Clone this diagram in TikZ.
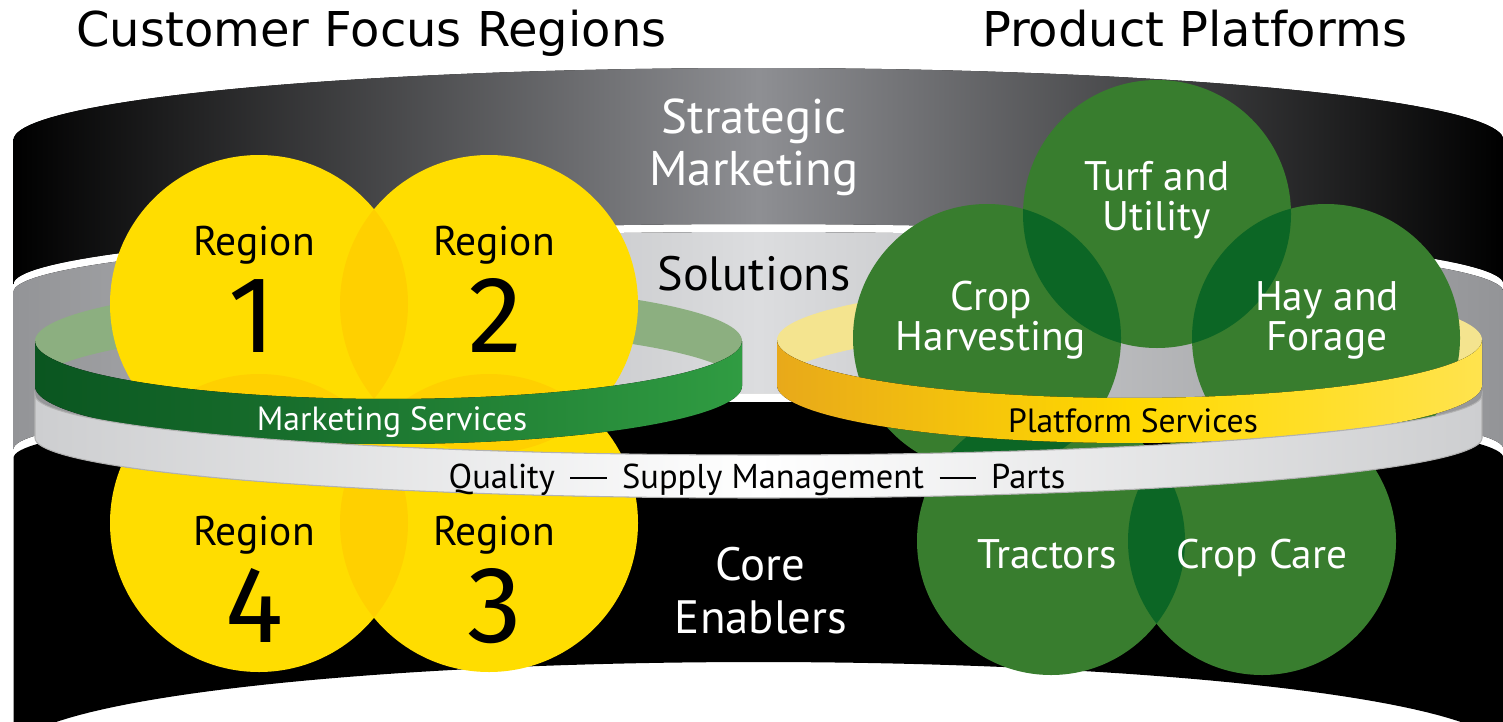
\documentclass[tikz,border=0pt]{standalone}
\usepackage{fontspec}
\setmainfont{PT Sans}
\newfontfamily\titlefont{DejaVu Sans}
\newfontfamily\digitfont{Fira Sans}
\usetikzlibrary{positioning}

\definecolor{regyellow}{HTML}{FFDD00}
\definecolor{reglens}{HTML}{FFD000}
\definecolor{platgreen}{HTML}{387D2E}
\definecolor{platlens}{HTML}{0C6625}
\definecolor{stratgray}{HTML}{8E8F93}
\definecolor{solgray}{HTML}{939497}
\definecolor{sollight}{HTML}{DCDDDF}
\definecolor{mktdark}{HTML}{0A5520}
\definecolor{mktlight}{HTML}{309C42}
\definecolor{mktback}{HTML}{8CAF80}
\definecolor{platorange}{HTML}{E8A91A}
\definecolor{platyellow}{HTML}{FFD900}
\definecolor{platpale}{HTML}{FFE34E}
\definecolor{platback}{HTML}{F4E48F}
\definecolor{qualgray}{HTML}{CDCED0}

% darker overlap of two discs
\newcommand{\lens}[4]{\begin{scope}\clip #1 circle[radius=#3]; \fill[#4] #2 circle[radius=#3];\end{scope}}
% long dash between the core enablers
\newcommand{\qdash}{\hspace{0.45em}\rule[0.26em]{1.05em}{0.055em}\hspace{0.45em}}

\begin{document}
\begin{tikzpicture}[x=0.01cm, y=-0.01cm, samples=90,
    declare function={ex(\t,\c,\a)=\c+\a*cos(\t); ey(\t,\c,\b)=\c-\b*sin(\t);},
    title/.style={font=\titlefont\fontsize{13.65}{16}\selectfont, anchor=base, inner sep=0pt},
    bandtxt/.style={font=\fontsize{13.85}{16}\selectfont, anchor=base, inner sep=0pt},
    regtxt/.style={font=\fontsize{11.8}{14}\selectfont, anchor=base, inner sep=0pt},
    regnum/.style={font=\digitfont\fontsize{31}{34}\selectfont, anchor=base, inner sep=0pt},
    plattxt/.style={font=\fontsize{11.75}{15}\selectfont, text=white, anchor=base, inner sep=0pt},
    ringtxt/.style={font=\fontsize{9.55}{12}\selectfont, anchor=base, inner sep=0pt}]
  \useasboundingbox (0,0) rectangle (1503,721);
  \clip (0,0) rectangle (1503,721);

  % drum
  \fill[left color=black, right color=black, middle color=stratgray]
    plot[domain=180:0] ({ex(\x,758.5,745)},{ey(\x,140,72)})
    -- plot[domain=0:180] ({ex(\x,758.5,745)},{ey(\x,284,60)}) -- cycle;
  \fill[left color=solgray, right color=solgray, middle color=sollight]
    plot[domain=180:0] ({ex(\x,758.5,745)},{ey(\x,292,60)})
    -- plot[domain=0:180] ({ex(\x,758.5,745)},{ey(\x,449,56)}) -- cycle;
  \fill[black]
    plot[domain=180:0] ({ex(\x,758.5,745)},{ey(\x,458,56)})
    -- plot[domain=0:180] ({ex(\x,758.5,745)},{ey(\x,752,90)}) -- cycle;

  % back of the rings
  \fill[mktback]
    plot[domain=180:0] ({ex(\x,388.5,353.5)},{ey(\x,341,58)})
    -- plot[domain=0:180] ({ex(\x,388.5,353.5)},{ey(\x,386,58)}) -- cycle;
  \fill[platback]
    plot[domain=180:0] ({ex(\x,1129.5,352.5)},{ey(\x,340,58)})
    -- plot[domain=0:180] ({ex(\x,1129.5,352.5)},{ey(\x,385,58)}) -- cycle;

  % regions
  \foreach \cx/\cy in {259/304,489/304,259/523,489/523}
    \fill[regyellow] (\cx,\cy) circle[radius=149];
  \lens{(259,304)}{(489,304)}{149}{reglens}
  \lens{(259,523)}{(489,523)}{149}{reglens}
  \lens{(259,304)}{(259,523)}{149}{reglens}
  \lens{(489,304)}{(489,523)}{149}{reglens}

  % platforms
  \foreach \cx/\cy in {1157/214,987/338,1326/338,1051/541,1262/541}
    \fill[platgreen] (\cx,\cy) circle[radius=134];
  \lens{(1157,214)}{(987,338)}{134}{platlens}
  \lens{(1157,214)}{(1326,338)}{134}{platlens}
  \lens{(987,338)}{(1051,541)}{134}{platlens}
  \lens{(1326,338)}{(1262,541)}{134}{platlens}
  \lens{(1051,541)}{(1262,541)}{134}{platlens}

  % front of the rings
  \fill[left color=mktdark, right color=mktlight]
    plot[domain=180:360] ({ex(\x,388.5,353.5)},{ey(\x,341,58)})
    -- plot[domain=360:180] ({ex(\x,388.5,353.5)},{ey(\x,386,58)}) -- cycle;
  \fill[left color=platorange, right color=platpale, middle color=platyellow]
    plot[domain=180:360] ({ex(\x,1129.5,352.5)},{ey(\x,340,58)})
    -- plot[domain=360:180] ({ex(\x,1129.5,352.5)},{ey(\x,385,58)}) -- cycle;
  \fill[left color=qualgray, right color=qualgray, middle color=white, draw=black!30, line width=0.3pt]
    plot[domain=180:360] ({ex(\x,758.5,723.5)},{ey(\x,395,60)})
    -- plot[domain=360:180] ({ex(\x,758.5,723.5)},{ey(\x,438,60)}) -- cycle;

  % texts
  \node[title] (cfr) at (371.5,47) {Customer Focus Regions};
  \node[title] (pp) at (1194.5,47) {Product Platforms};

  \node[bandtxt, text=white] (sm1) at (754,133) {Strategic};
  \node[bandtxt, text=white] (sm2) at (754,185) {Marketing};
  \node[bandtxt, font=\fontsize{13.7}{17}\selectfont] (sol) at (754,290) {Solutions};
  \node[bandtxt, text=white, font=\fontsize{13.3}{17}\selectfont] (ce1) at (760,580) {Core};
  \node[bandtxt, text=white, font=\fontsize{13.3}{17}\selectfont] (ce2) at (761,633) {Enablers};

  \node[regtxt] (r1) at (254,255) {Region};
  \node[regnum] (n1) at (252,352) {1};
  \node[regtxt] (r2) at (494,255) {Region};
  \node[regnum] (n2) at (495,352) {2};
  \node[regtxt] (r4) at (254,545) {Region};
  \node[regnum] (n4) at (254,642) {4};
  \node[regtxt] (r3) at (494,545) {Region};
  \node[regnum] (n3) at (495,642) {3};

  \node[plattxt] (tu1) at (1157,190) {Turf and};
  \node[plattxt] (tu2) at (1157,230) {Utility};
  \node[plattxt] (ch1) at (991,310) {Crop};
  \node[plattxt] (ch2) at (991,350) {Harvesting};
  \node[plattxt] (hf1) at (1327,310) {Hay and};
  \node[plattxt] (hf2) at (1327,350) {Forage};
  \node[plattxt] (tr) at (1047,568) {Tractors};
  \node[plattxt] (cc) at (1262,568) {Crop Care};

  \node[ringtxt, text=white] (ms) at (392,430) {Marketing Services};
  \node[ringtxt] (ps) at (1133,432) {Platform Services};
  \node[ringtxt, font=\fontsize{9.8}{12}\selectfont] (qsp) at (757,488) {Quality\qdash Supply Management\qdash Parts};
\end{tikzpicture}
\end{document}
